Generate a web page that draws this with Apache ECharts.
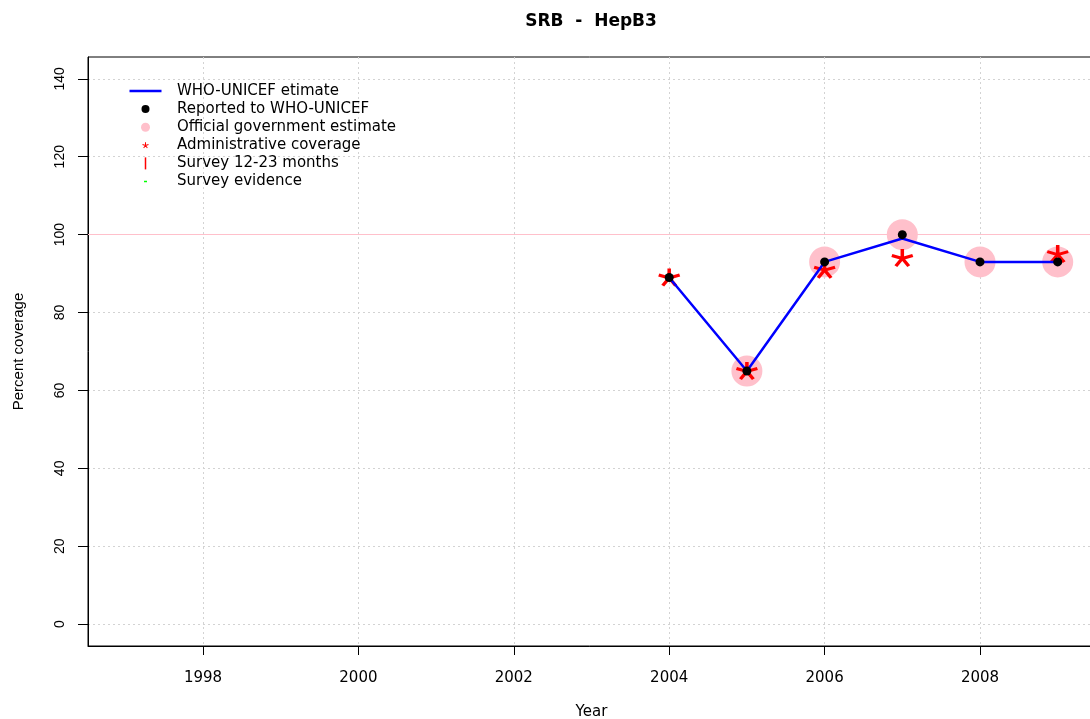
<!DOCTYPE html>
<html><head><meta charset="utf-8">
<script src="https://cdn.jsdelivr.net/npm/echarts@6/dist/echarts.min.js"></script>
<style>html,body{margin:0;padding:0;background:#fff;}#c{width:1090px;height:719px;}</style>
</head><body><div id="c"></div>
<script>
const years = [2004, 2005, 2006, 2007, 2008, 2009];
const whoUnicef = [89, 65, 93, 99, 93, 93];
const reported = [89, 65, 93, 100, 93, 93];
const official = [null, 65, 93, 100, 93, 93];
const administrative = [89, 65, 91, 94, null, 95];
const survey1223 = [];
const surveyEvidence = [];
const xTicks = [1998, 2000, 2002, 2004, 2006, 2008];
const yTicks = [0, 20, 40, 60, 80, 100, 120, 140];
const targetLine = 100;
const seriesNames = ['WHO-UNICEF etimate', 'Reported to WHO-UNICEF', 'Official government estimate', 'Administrative coverage', 'Survey 12-23 months', 'Survey evidence'];
const titleText = 'SRB  -  HepB3';

function pairs(vals) { return years.map((y, i) => [y, vals[i]]).filter(p => p[1] != null); }

let astW = 0, astH = 0;
function asteriskPath() {
  const L = 10, w = 3.2; let d = '';
  const all = [];
  for (let k = 0; k < 5; k++) {
    const a = (-90 + 72 * k) * Math.PI / 180;
    const dx = Math.cos(a), dy = Math.sin(a), px = -dy, py = dx;
    const pts = [[px * w / 2, py * w / 2], [px * w / 2 + dx * L, py * w / 2 + dy * L], [-px * w / 2 + dx * L, -py * w / 2 + dy * L], [-px * w / 2, -py * w / 2]];
    pts.forEach(p => all.push(p));
    d += 'M' + pts.map(p => (p[0] + 20).toFixed(2) + ',' + (p[1] + 20).toFixed(2)).join(' L') + ' Z ';
  }
  const xs = all.map(p => p[0]), ys = all.map(p => p[1]);
  astW = Math.max(...xs) - Math.min(...xs); astH = Math.max(...ys) - Math.min(...ys);
  return 'path://' + d;
}
const AST = asteriskPath();

const legendSpec = [
  { name: seriesNames[0], icon: 'path://M0,0 H32 V2.5 H0 Z', h: 2.5, w: 32, color: '#0000ff' },
  { name: seriesNames[1], icon: 'circle', h: 8, w: 8, color: '#000000' },
  { name: seriesNames[2], icon: 'circle', h: 9, w: 9, color: '#ffc0cb' },
  { name: seriesNames[3], icon: AST, h: 6, w: 6 * astW / astH, color: '#ff0000' },
  { name: seriesNames[4], icon: 'path://M0,0 H1.5 V12 H0 Z', h: 12, w: 1.5, color: '#ff0000' },
  { name: seriesNames[5], icon: 'path://M0,0 H3 V1.5 H0 Z', h: 1.5, w: 3, color: '#00ff00' }
];
const legendIconCenterX = 145.5, legendTextX = 177, legendRow0 = 83.5, legendRowGap = 18.1;

const chart = echarts.init(document.getElementById('c'), null, { renderer: 'canvas' });
const sans = 'DejaVu Sans';
const option = {
  animation: false,
  backgroundColor: '#ffffff',
  title: {
    text: titleText, left: 591, top: 13, textAlign: 'center', padding: 0,
    textStyle: { fontFamily: sans, fontWeight: 'bold', fontSize: 17, color: '#000' }
  },
  legend: legendSpec.map((s, i) => {
    const iw = 2 * (legendTextX - 5 - legendIconCenterX);
    return {
      left: legendIconCenterX - s.w / 2, top: legendRow0 + legendRowGap * i, orient: 'vertical', padding: 0,
      itemWidth: iw, itemHeight: s.h, selectedMode: false,
      data: [{ name: s.name, icon: s.icon, itemStyle: { color: s.color, borderWidth: 0, opacity: 1 } }],
      textStyle: { fontFamily: sans, fontSize: 15, color: '#000' }
    };
  }),
  grid: { left: 88, top: 57, right: -5, bottom: 73, show: true, borderColor: '#000', borderWidth: 1, outerBoundsMode: 'none', containLabel: false },
  xAxis: {
    type: 'value', min: 1996.52, max: 2009.48,
    axisLine: { show: true, onZero: false, lineStyle: { color: '#000', width: 1 } },
    axisTick: { show: true, customValues: xTicks, length: 9, lineStyle: { color: '#000' } },
    axisLabel: { customValues: xTicks, margin: 25, fontFamily: sans, fontSize: 15, color: '#000', formatter: v => String(v) },
    splitLine: { show: true, lineStyle: { color: '#d3d3d3', type: [2, 3], width: 1 } },
    name: 'Year', nameLocation: 'middle', nameGap: 59,
    nameTextStyle: { fontFamily: sans, fontSize: 15, color: '#000' }
  },
  yAxis: {
    type: 'value', min: -5.6, max: 145.6,
    axisLine: { show: true, onZero: false, lineStyle: { color: '#000', width: 1 } },
    axisTick: { show: true, customValues: yTicks, length: 10, lineStyle: { color: '#000' } },
    axisLabel: { customValues: yTicks, rotate: 90, margin: 21, fontFamily: 'Liberation Sans', fontSize: 14, color: '#000', formatter: v => String(v) },
    splitLine: { show: true, lineStyle: { color: '#d3d3d3', type: [2, 3], width: 1 } },
    name: 'Percent coverage', nameLocation: 'middle', nameGap: 62, nameRotate: 90,
    nameTextStyle: { fontFamily: 'Liberation Sans', fontSize: 15, color: '#000' }
  },
  series: [
    {
      name: seriesNames[2], type: 'scatter', z: 3, data: pairs(official),
      symbol: 'circle', symbolSize: 31, itemStyle: { color: '#ffc0cb', opacity: 1 },
      markLine: {
        silent: true, symbol: 'none', label: { show: false }, z: 2,
        lineStyle: { color: '#ffc0cb', type: 'solid', width: 1.2, opacity: 1 },
        data: [{ yAxis: targetLine }]
      }
    },
    {
      name: seriesNames[3], type: 'scatter', z: 4, data: pairs(administrative),
      symbol: AST, symbolSize: [22, 18], itemStyle: { color: '#ff0000', opacity: 1 }
    },
    {
      name: seriesNames[0], type: 'line', z: 5, data: pairs(whoUnicef),
      symbol: 'none', lineStyle: { color: '#0000ff', width: 2.5 }, itemStyle: { color: '#0000ff' }
    },
    {
      name: seriesNames[1], type: 'scatter', z: 6, data: pairs(reported),
      symbol: 'circle', symbolSize: 9, itemStyle: { color: '#000000', opacity: 1 }
    },
    { name: seriesNames[4], type: 'scatter', data: survey1223, itemStyle: { color: '#ff0000' } },
    { name: seriesNames[5], type: 'scatter', data: surveyEvidence, itemStyle: { color: '#00ff00' } }
  ]
};
chart.setOption(option);
</script></body></html>
